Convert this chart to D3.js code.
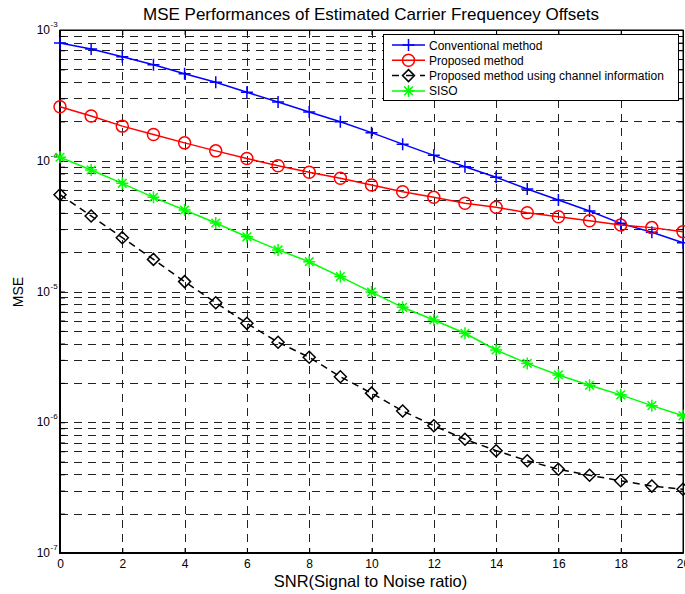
<!DOCTYPE html>
<html><head><meta charset="utf-8">
<script src="https://cdn.jsdelivr.net/npm/d3@7"></script>
<style>body{margin:0;background:#fff} svg{display:block} text{font-family:"Liberation Sans",Arial,Helvetica,sans-serif;fill:#000}</style>
</head><body><svg id="c" width="685" height="594"></svg>
<script>
const snr = [0,1,2,3,4,5,6,7,8,9,10,11,12,13,14,15,16,17,18,19,20];
const conventional = [7.95e-4,7.16e-4,6.25e-4,5.43e-4,4.63e-4,3.98e-4,3.34e-4,2.81e-4,2.36e-4,1.99e-4,1.64e-4,1.34e-4,1.10e-4,9.0e-5,7.47e-5,6.08e-5,5.01e-5,4.13e-5,3.32e-5,2.84e-5,2.36e-5];
const proposed = [2.59e-4,2.20e-4,1.84e-4,1.59e-4,1.37e-4,1.19e-4,1.04e-4,9.17e-5,8.16e-5,7.34e-5,6.53e-5,5.80e-5,5.25e-5,4.73e-5,4.41e-5,4.0e-5,3.73e-5,3.48e-5,3.22e-5,3.08e-5,2.87e-5];
const proposedChannel = [5.50e-5,3.78e-5,2.58e-5,1.76e-5,1.19e-5,8.21e-6,5.71e-6,4.09e-6,3.14e-6,2.23e-6,1.67e-6,1.22e-6,9.41e-7,7.41e-7,6.06e-7,5.08e-7,4.37e-7,3.93e-7,3.57e-7,3.25e-7,3.07e-7];
const siso = [1.063e-4,8.50e-5,6.72e-5,5.25e-5,4.20e-5,3.34e-5,2.62e-5,2.08e-5,1.69e-5,1.30e-5,9.9e-6,7.57e-6,6.05e-6,4.79e-6,3.57e-6,2.82e-6,2.30e-6,1.92e-6,1.62e-6,1.34e-6,1.12e-6];
const seriesNames = ["Conventional method","Proposed method","Proposed method using channel information","SISO"];
const xTickValues = [0,2,4,6,8,10,12,14,16,18,20];
const yDecades = [1e-7,1e-6,1e-5,1e-4,1e-3];
const yExponents = ["-7","-6","-5","-4","-3"];
const titleText = "MSE Performances of Estimated Carrier Frequencey Offsets";
const xLabel = "SNR(Signal to Noise ratio)";
const yLabel = "MSE";

const svg = d3.select("#c");
const L = 60, R = 683, T = 30, B = 553;
const x = d3.scaleLinear().domain([0,20]).range([L,R]);
const y = d3.scaleLog().domain([1e-7,1e-3]).range([B,T]);
const px = v => Math.round(v) + 0.5;

// grid
const grid = svg.append("g");
const yGrid = y.ticks().filter(v => v > 1.0001e-7 && v < 0.9999e-3);
grid.selectAll("line.gy").data(yGrid).join("line")
  .attr("x1", L).attr("x2", R)
  .attr("y1", d => px(y(d))).attr("y2", d => px(y(d)))
  .attr("stroke", "#222").attr("stroke-width", 1).attr("stroke-dasharray", "8,6");
grid.selectAll("line.gx").data(xTickValues.slice(1, -1)).join("line")
  .attr("y1", T).attr("y2", B)
  .attr("x1", d => px(x(d))).attr("x2", d => px(x(d)))
  .attr("stroke", "#222").attr("stroke-width", 1).attr("stroke-dasharray", "8,6");

// axes (inward ticks)
const xAxisB = svg.append("g").attr("transform", `translate(0,${B})`)
  .call(d3.axisBottom(x).tickValues(xTickValues).tickSizeInner(-5).tickSizeOuter(0).tickPadding(6).tickFormat(d3.format("d")));
xAxisB.selectAll("text").attr("font-size", 12).attr("font-family", "Liberation Sans, Arial, sans-serif");
const xAxisT = svg.append("g").attr("transform", `translate(0,${T})`)
  .call(d3.axisTop(x).tickValues(xTickValues).tickSizeInner(-5).tickSizeOuter(0).tickFormat(""));
const yAxisL = svg.append("g").attr("transform", `translate(${L},0)`)
  .call(d3.axisLeft(y).tickValues(y.ticks()).tickSizeInner(-5).tickSizeOuter(0).tickFormat(""));
const yAxisR = svg.append("g").attr("transform", `translate(${R},0)`)
  .call(d3.axisRight(y).tickValues(y.ticks()).tickSizeInner(-5).tickSizeOuter(0).tickFormat(""));
svg.selectAll(".domain").attr("stroke", "#000").attr("stroke-width", 1);
svg.selectAll(".tick line").attr("stroke", "#000");

// y labels 10^e
yDecades.forEach((v, i) => {
  const yy = y(v);
  svg.append("text").attr("x", 50).attr("y", yy + 4).attr("text-anchor", "end")
    .attr("font-size", 12).text("10");
  svg.append("text").attr("x", 50.5).attr("y", yy - 3).attr("text-anchor", "start")
    .attr("font-size", 8).text(yExponents[i]);
});

// frame
svg.append("rect").attr("x", L).attr("y", T).attr("width", R - L).attr("height", B - T)
  .attr("fill", "none").attr("stroke", "#000").attr("stroke-width", 1);
svg.append("line").attr("x1", L).attr("x2", L).attr("y1", T).attr("y2", B + 1).attr("stroke", "#000").attr("stroke-width", 2);
svg.append("line").attr("x1", L).attr("x2", R).attr("y1", B).attr("y2", B).attr("stroke", "#000").attr("stroke-width", 2);

// series
const line = d3.line().x(d => x(d[0])).y(d => y(d[1]));
const markerPaths = {
  plus: "M-6,0H6M0,-6V6",
  circle: d3.symbol().type(d3.symbolCircle).size(113)(),
  diamond: "M0,-6L6,0L0,6L-6,0Z",
  star: "M-6,0H6M0,-6V6M-4.3,-4.3L4.3,4.3M-4.3,4.3L4.3,-4.3"
};
const series = [
  {name: seriesNames[0], vals: conventional, color: "#0000ff", dash: null, marker: "plus", mw: 1.5, lw: 1.5},
  {name: seriesNames[1], vals: proposed, color: "#ff0000", dash: null, marker: "circle", mw: 1.5, lw: 1.5},
  {name: seriesNames[2], vals: proposedChannel, color: "#000000", dash: "7,5", marker: "diamond", mw: 1.5, lw: 1.5},
  {name: seriesNames[3], vals: siso, color: "#00ff00", dash: null, marker: "star", mw: 1.5, lw: 1.5}
];
series.forEach(s => {
  const pts = snr.map((v, i) => [v, s.vals[i]]);
  svg.append("path").datum(pts).attr("d", line).attr("fill", "none")
    .attr("stroke", s.color).attr("stroke-width", s.lw).attr("stroke-dasharray", s.dash);
  svg.append("g").selectAll("path").data(pts).join("path")
    .attr("transform", d => `translate(${x(d[0])},${y(d[1])})`)
    .attr("d", markerPaths[s.marker]).attr("fill", "none")
    .attr("stroke", s.color).attr("stroke-width", s.mw);
});

// legend
const lg = svg.append("g");
lg.append("rect").attr("x", 383.5).attr("y", 34.5).attr("width", 295).attr("height", 66)
  .attr("fill", "#fff").attr("stroke", "#000").attr("stroke-width", 1);
series.forEach((s, i) => {
  const ly = 45 + i * 15.3;
  lg.append("line").attr("x1", 392).attr("x2", 425).attr("y1", ly).attr("y2", ly)
    .attr("stroke", s.color).attr("stroke-width", 1.5).attr("stroke-dasharray", s.dash ? "7,7" : null);
  lg.append("path").attr("transform", `translate(408.5,${ly})`).attr("d", markerPaths[s.marker])
    .attr("fill", "none").attr("stroke", s.color).attr("stroke-width", 1.5);
  lg.append("text").attr("x", 429).attr("y", ly + 4.5).attr("font-size", 12).text(s.name);
});

// titles
svg.append("text").attr("x", 371).attr("y", 19.5).attr("text-anchor", "middle")
  .attr("font-size", 17).text(titleText);
svg.append("text").attr("x", 370.5).attr("y", 587).attr("text-anchor", "middle")
  .attr("font-size", 16.5).text(xLabel);
svg.append("text").attr("transform", "translate(23,292) rotate(-90)").attr("text-anchor", "middle")
  .attr("font-size", 14).text(yLabel);
</script></body></html>
